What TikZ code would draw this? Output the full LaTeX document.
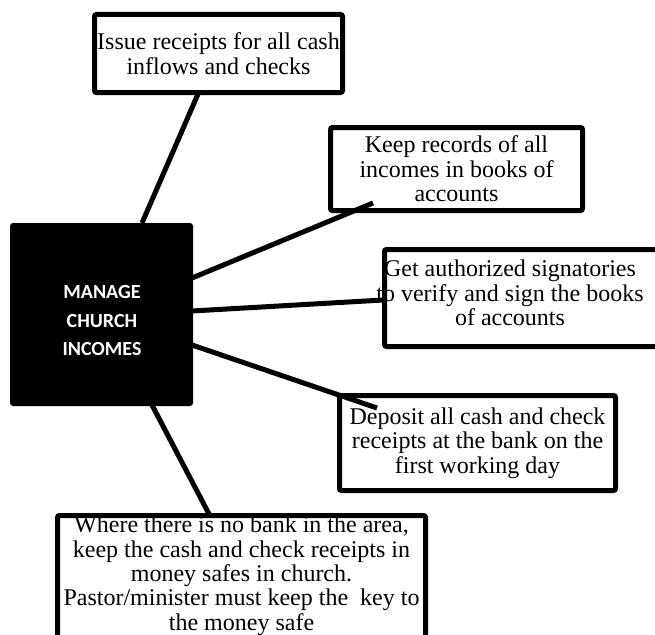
\documentclass[tikz,border=0pt]{standalone}
\usepackage{fontspec}
\setmainfont{Liberation Serif}
\newfontfamily\hubfont{Carlito}
\begin{document}
\begin{tikzpicture}[x=1pt,y=-1pt,
  every node/.style={inner sep=0pt, outer sep=0pt},
  frame/.style={draw=black, line width=5pt, fill=white, rounded corners=2pt},
  hubbox/.style={fill=black, rounded corners=3pt},
  body/.style={align=center, font=\fontsize{24}{24.4}\selectfont},
  hubtext/.style={align=center, text=white, font=\hubfont\bfseries\fontsize{20}{28.5}\selectfont},
  link/.style={draw=black, line width=5pt}]
\useasboundingbox (0,0) rectangle (655,634);

% central block
\node[hubbox, minimum width=183pt, minimum height=183pt] (hub) at (101.5,314.5) {};
\node[hubtext] (hubtxt) at (102,321) {MANAGE\\CHURCH\\INCOMES};

% task boxes
\node[frame, body, minimum width=248pt, minimum height=78pt] (b1) at (218.5,53.5)
  {Issue receipts for all cash\\inflows and checks};
\node[frame, body, minimum width=252pt, minimum height=83pt] (b2) at (456.5,169)
  {Keep records of all\\incomes in books of\\accounts};
\node[frame, minimum width=278pt, minimum height=97pt] (b3) at (523.5,298) {};
\node[frame, body, minimum width=276pt, minimum height=95pt] (b4) at (477.5,443)
  {Deposit all cash and check\\receipts at the bank on the\\first working day};
\node[frame, minimum width=368pt, minimum height=142pt] (b5) at (241.5,586.5) {};
\node[body] (t5) at (241.5,575.7)
  {Where there is no bank in the area,\\keep the cash and check receipts in\\money safes in church.\\Pastor/minister must keep the\ \ key to\\the money safe};

% connector end points
\coordinate (h1) at (142,223);
\coordinate (e1) at (198,94);
\coordinate (h2) at (192,278);
\coordinate (e2) at (373,203);
\coordinate (h3) at (192,311);
\coordinate (e3) at (383,300);
\coordinate (h4) at (192,345);
\coordinate (e4) at (377,408);
\coordinate (h5) at (152,405);
\coordinate (e5) at (209,514);

\draw[link] (h1) -- (e1);
\draw[link] (h2) -- (e2);
\draw[link] (h3) -- (e3);
\draw[link] (h4) -- (e4);
\draw[link] (h5) -- (e5);

% wide text that runs over the left border of its box
\node[body] (t3) at (510,293)
  {Get authorized signatories\\to verify and sign the books\\of accounts};
\end{tikzpicture}
\end{document}
